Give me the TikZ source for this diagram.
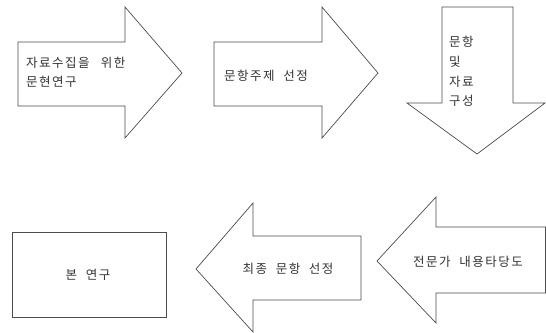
\documentclass[tikz,border=0pt]{standalone}
\usepackage{fontspec}
\newfontfamily\kr[LetterSpace=12,WordSpace=2]{Noto Sans CJK KR}
\begin{document}
\begin{tikzpicture}[x=1pt,y=-1pt,
  shapeline/.style={draw=black!70,line width=0.7pt,line join=miter,fill=white},
  lbl/.style={inner sep=0pt,text=black!80,font=\kr\fontsize{12.5}{19.5}\selectfont},
]
\useasboundingbox (0,0) rectangle (546,332);
% arrow 1 (right)
\draw[shapeline] (18,42) -- (125,42) -- (125,7) -- (182,73) -- (125,138) -- (125,106) -- (18,106) -- cycle;
% arrow 2 (right)
\draw[shapeline] (214,42) -- (322,42) -- (322,7) -- (378,73) -- (322,138) -- (322,106) -- (214,106) -- cycle;
% arrow 3 (down)
\draw[shapeline] (442,7) -- (513,7) -- (513,103) -- (545,103) -- (477,154) -- (407,103) -- (442,103) -- cycle;
% rectangle
\draw[shapeline] (12,232) rectangle (166,317);
% arrow 4 (left)
\draw[shapeline] (361,236) -- (253,236) -- (253,203) -- (196,269) -- (253,332) -- (253,300) -- (361,300) -- cycle;
% arrow 5 (left)
\draw[shapeline] (545.5,227) -- (436,227) -- (436,197) -- (377,261) -- (436,323) -- (436,293) -- (545.5,293) -- cycle;
% labels
\node[lbl,anchor=west] (t1a) at (26,63) {자료수집을\hspace{0.9em}위한};
\node[lbl,anchor=west] (t1b) at (26,82) {문현연구};
\node[lbl,anchor=west] (t2) at (224,76) {문항주제 선정};
\node[lbl,anchor=west] (t3a) at (449,42) {문항};
\node[lbl,anchor=west] (t3b) at (449,62) {및};
\node[lbl,anchor=west] (t3c) at (449,82) {자료};
\node[lbl,anchor=west] (t3d) at (449,101) {구성};
\node[lbl] (t6) at (88,275) {본 연구};
\node[lbl] (t4) at (288,269) {최종 문항 선정};
\node[lbl] (t5) at (468,262) {전문가 내용타당도};
\end{tikzpicture}
\end{document}
